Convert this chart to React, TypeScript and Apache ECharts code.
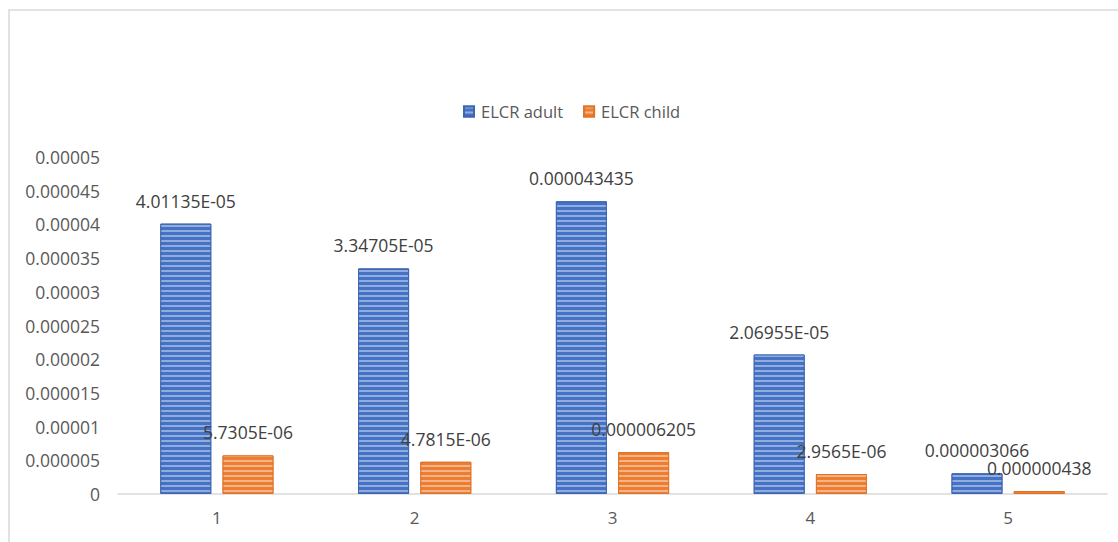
import React, { useEffect, useRef } from "react";
import * as echarts from "echarts";

const categories = ["1", "2", "3", "4", "5"];
const seriesNames = ["ELCR adult", "ELCR child"];
const adultValues = [0.0000401135, 0.0000334705, 0.000043435, 0.0000206955, 0.000003066];
const childValues = [0.0000057305, 0.0000047815, 0.000006205, 0.0000029565, 0.000000438];
const yMin = 0;
const yMax = 0.00005;
const yStep = 0.000005;

const FONT = "'Open Sans', 'Noto Sans', sans-serif";

function excelGeneral(v: number): string {
  if (v === 0) return "0";
  let plain = v.toFixed(12).replace(/0+$/, "").replace(/\.$/, "");
  if (plain.length <= 11) return plain;
  const [m, e] = v.toExponential().split("e");
  const exp = parseInt(e, 10);
  const sign = exp < 0 ? "-" : "+";
  const abs = Math.abs(exp);
  return m + "E" + sign + (abs < 10 ? "0" + abs : String(abs));
}

function axisFmt(v: number): string {
  if (Math.abs(v) < 1e-12) return "0";
  return v.toFixed(6).replace(/0+$/, "").replace(/\.$/, "");
}

export default function App() {
  const ref = useRef<HTMLDivElement>(null);
  useEffect(() => {
    if (!ref.current) return;
    const chart = echarts.init(ref.current, undefined, { renderer: "svg" });
    const decal = {
      symbol: "rect",
      symbolSize: 1,
      dashArrayX: [1, 0],
      dashArrayY: [2, 3],
      rotation: 0,
      color: "rgba(255,255,255,0.42)",
    };
    const mkSeries = (name: string, values: number[], color: string, border: string) => ({
      name,
      type: "bar",
      data: values,
      barWidth: 51,
      barGap: "22%",
      itemStyle: { color, borderColor: border, borderWidth: 1, decal },
      label: {
        show: true,
        position: "top",
        distance: 14,
        formatter: (p: any) => excelGeneral(p.value),
        fontFamily: FONT,
        fontSize: 17.5,
        color: "#404040",
      },
    });
    chart.setOption({
      animation: false,
      backgroundColor: "#ffffff",
      color: ["#4472C4", "#ED7D31"],
      graphic: [
        {
          type: "rect",
          shape: { x: 9, y: 10, width: 1200, height: 600 },
          style: { fill: "none", stroke: "#d9d9d9", lineWidth: 1.5 },
          silent: true,
        },
      ],
      legend: {
        data: seriesNames,
        top: 98,
        left: 458,
        itemWidth: 10,
        itemHeight: 10,
        itemGap: 20,
        icon: "rect",
        textStyle: { fontFamily: FONT, fontSize: 16.5, color: "#595959", padding: [0, 0, 0, 2] },
      },
      grid: { left: 118, right: 11, top: 157, bottom: 48, containLabel: false },
      xAxis: {
        type: "category",
        data: categories,
        axisLine: { lineStyle: { color: "#d9d9d9", width: 1.5 } },
        axisTick: { show: false },
        axisLabel: { fontFamily: FONT, fontSize: 17, color: "#595959", margin: 15 },
      },
      yAxis: {
        type: "value",
        min: yMin,
        max: yMax,
        interval: yStep,
        axisLine: { show: false },
        axisTick: { show: false },
        splitLine: { show: false },
        axisLabel: {
          fontFamily: FONT,
          fontSize: 17.5,
          color: "#595959",
          margin: 18,
          formatter: axisFmt,
        },
      },
      series: [
        mkSeries(seriesNames[0], adultValues, "#4472C4", "#3d66b3"),
        mkSeries(seriesNames[1], childValues, "#ED7D31", "#e07428"),
      ],
    });
    return () => chart.dispose();
  }, []);
  return (
    <div
      ref={ref}
      style={{ position: "absolute", left: 0, top: 0, width: 1118, height: 542 }}
    />
  );
}
